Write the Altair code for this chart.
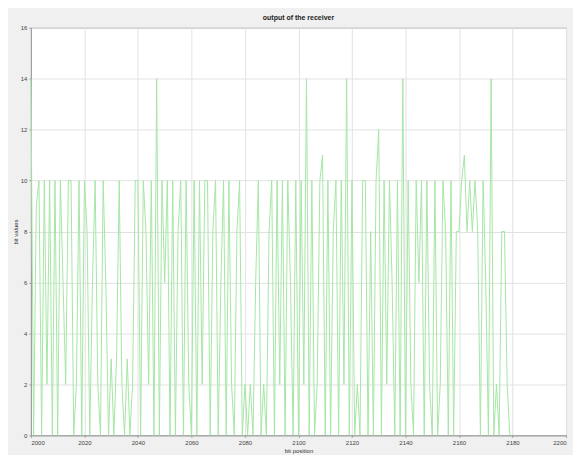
import altair as alt
import pandas as pd

start_pos = 2000
bit_values = [
    14, 0, 9, 10, 0, 10, 2, 10, 0, 10,
    0, 10, 6, 2, 10, 10, 0, 2, 10, 0,
    10, 8, 0, 6, 10, 2, 0, 10, 6, 0,
    3, 0, 3, 10, 2, 0, 3, 0, 2, 10,
    10, 0, 10, 8, 2, 10, 0, 14, 0, 10,
    6, 10, 0, 10, 0, 8, 10, 0, 10, 2,
    0, 10, 0, 10, 2, 10, 10, 0, 8, 10,
    0, 6, 10, 0, 10, 2, 0, 8, 10, 0,
    2, 0, 2, 0, 6, 10, 0, 2, 0, 8,
    10, 0, 10, 2, 10, 0, 10, 6, 0, 10,
    0, 10, 2, 14, 0, 10, 0, 2, 10, 11,
    0, 10, 0, 8, 10, 0, 10, 2, 14, 0,
    10, 0, 2, 0, 10, 10, 0, 8, 0, 10,
    12, 0, 10, 2, 10, 6, 0, 10, 0, 14,
    0, 10, 2, 0, 10, 6, 10, 0, 10, 2,
    0, 10, 0, 2, 10, 8, 0, 10, 0, 8,
    8, 10, 11, 8, 10, 8, 10, 8, 0, 10,
    6, 0, 14, 0, 2, 0, 8, 8, 2, 0,
]
x_ticks = list(range(2000, 2201, 20))
y_ticks = list(range(0, 17, 2))

df = pd.DataFrame({
    "pos": [start_pos + i for i in range(len(bit_values))],
    "val": bit_values,
})

chart = alt.Chart(df).mark_line(color="#a6e6a6", strokeWidth=1, interpolate="linear").encode(
    x=alt.X("pos:Q", scale=alt.Scale(domain=[2000, 2200], nice=False),
            axis=alt.Axis(values=x_ticks, title="bit position", format="d")),
    y=alt.Y("val:Q", scale=alt.Scale(domain=[0, 16], nice=False),
            axis=alt.Axis(values=y_ticks, title="bit values")),
).properties(
    width=537,
    height=409,
    title=alt.TitleParams("output of the receiver", fontSize=7, fontWeight="bold",
                          font="Liberation Sans", color="#222222", offset=4),
    background="#f0f0f0",
    padding={"left": 23, "top": 19, "right": 7, "bottom": 19},
    autosize=alt.AutoSizeParams(type="none"),
).configure_view(
    fill="white", stroke="#999999", strokeWidth=1,
).configure_axis(
    labelFont="Liberation Sans", titleFont="Liberation Sans",
    labelFontSize=6, titleFontSize=6, titleFontWeight="normal",
    labelColor="#444444", titleColor="#333333",
    domainColor="#999999", tickColor="#999999", tickSize=2,
    gridColor="#e2e2e2", labelPadding=2, titlePadding=2,
)

chart.save("out.html", embed_options={"renderer": "svg", "actions": False})
